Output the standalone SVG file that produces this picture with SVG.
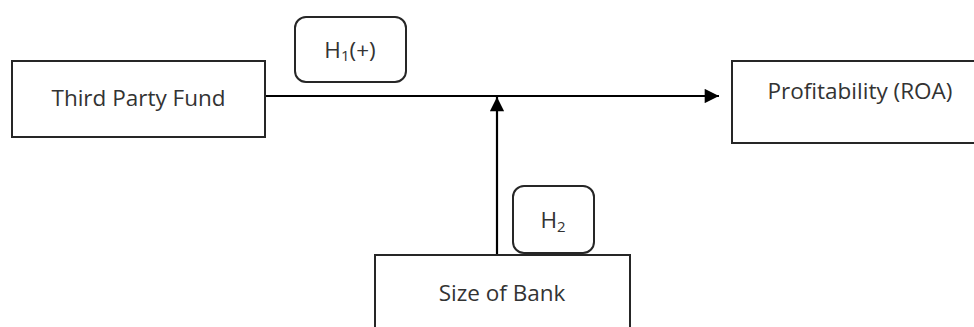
<svg xmlns="http://www.w3.org/2000/svg" width="974" height="327" viewBox="0 0 974 327">
<style>
.box{fill:#fff;stroke:#262626;stroke-width:2}
.tag{fill:#fff;stroke:#262626;stroke-width:2}
.lbl{font-family:"Open Sans","Liberation Sans",sans-serif;font-size:22.5px;fill:#333;text-anchor:middle}
.con{stroke:#000;stroke-width:2.2;fill:none}
</style>
<defs>
<marker id="ah" viewBox="0 0 10 10" refX="10" refY="5" markerWidth="7.5" markerHeight="6.5" markerUnits="strokeWidth" orient="auto">
<path d="M0,0 L10,5 L0,10 z" fill="#000"/>
</marker>
</defs>
<g id="connectors">
<line class="con" x1="266" y1="96" x2="719" y2="96" marker-end="url(#ah)"/>
<line class="con" x1="497" y1="255" x2="497" y2="97" marker-end="url(#ah)"/>
</g>
<g id="tpf">
<rect class="box" x="12" y="61" width="253" height="76"/>
<text class="lbl" x="138.5" y="106">Third Party Fund</text>
</g>
<g id="h1">
<rect class="tag" x="295" y="17" width="111" height="65" rx="11"/>
<text class="lbl" x="350" y="58">H<tspan font-size="15" dy="3">1</tspan><tspan dy="-3">(+)</tspan></text>
</g>
<g id="roa">
<rect class="box" x="732" y="61" width="250" height="82"/>
<text class="lbl" x="860" y="99">Profitability (ROA)</text>
</g>
<g id="h2">
<rect class="tag" x="513" y="186" width="81" height="67" rx="11"/>
<text class="lbl" x="553" y="228">H<tspan font-size="15" dy="4">2</tspan></text>
</g>
<g id="sob">
<rect class="box" x="375" y="255" width="255" height="80"/>
<text class="lbl" x="502" y="301">Size of Bank</text>
</g>
</svg>
